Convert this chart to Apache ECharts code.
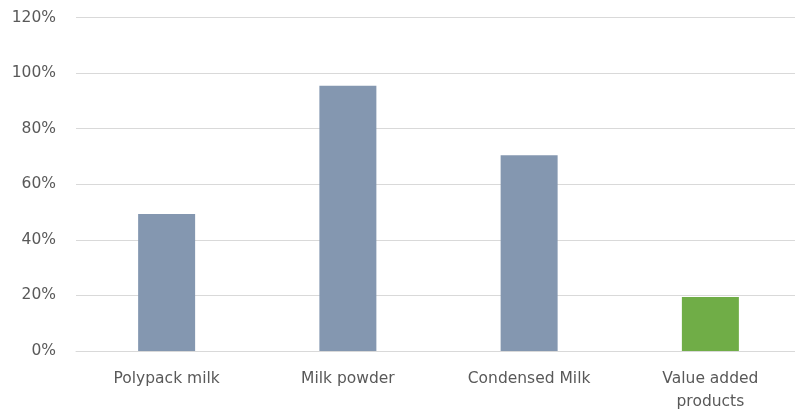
<!DOCTYPE html>
<html>
<head>
<meta charset="utf-8">
<script src="https://cdn.jsdelivr.net/npm/echarts@6/dist/echarts.min.js"></script>
<style>
html,body{margin:0;padding:0;background:#fff;}
#chart{width:795px;height:415px;}
</style>
</head>
<body>
<div id="chart"></div>
<script>
const categories = ['Polypack milk', 'Milk powder', 'Condensed Milk', 'Value added\nproducts'];
const values = [49.3, 95.4, 70.4, 19.4];
const barColors = ['#8497B0', '#8497B0', '#8497B0', '#70AD47'];
const yTicks = [0, 20, 40, 60, 80, 100, 120];

const chart = echarts.init(document.getElementById('chart'), null, {renderer: 'canvas'});
chart.setOption({
  animation: false,
  grid: {left: 76, width: 725, top: 17.5, height: 333.5, containLabel: false, outerBoundsMode: 'none'},
  xAxis: {
    type: 'category',
    data: categories,
    axisLine: {show: true, lineStyle: {color: '#d9d9d9', width: 1}},
    axisTick: {show: false},
    axisLabel: {color: '#595959', fontFamily: 'DejaVu Sans', fontSize: 15.5, margin: 16, lineHeight: 23.5, interval: 0}
  },
  yAxis: {
    type: 'value',
    min: 0, max: 120, interval: 20,
    axisLine: {show: false},
    axisTick: {show: false},
    splitLine: {lineStyle: {color: '#d9d9d9', width: 1}},
    axisLabel: {color: '#595959', fontFamily: 'DejaVu Sans', fontSize: 15.5, margin: 20,
      formatter: v => yTicks.includes(v) ? v + '%' : ''}
  },
  series: [{
    type: 'bar',
    barWidth: 57,
    data: values.map((v, i) => ({value: v, itemStyle: {color: barColors[i]}}))
  }]
});
</script>
</body>
</html>
